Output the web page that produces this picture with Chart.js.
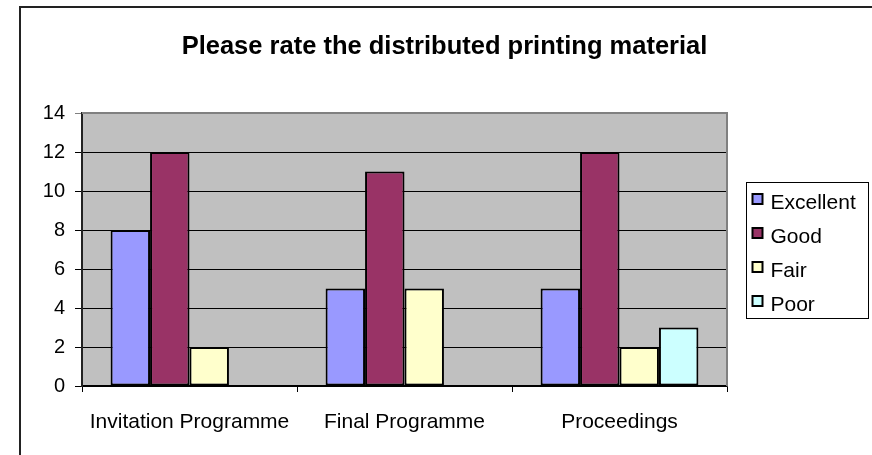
<!DOCTYPE html>
<html>
<head>
<meta charset="utf-8">
<script src="https://cdn.jsdelivr.net/npm/chart.js@4.4.1/dist/chart.umd.min.js"></script>
<style>
  html, body { margin: 0; padding: 0; background: #fff; overflow: hidden; }
  #wrap  { position: relative; width: 872px; height: 455px; }
  #frame { position: absolute; left: 19px; top: 6px; width: 900px; height: 500px;
           border: 2px solid #222; box-sizing: border-box; pointer-events: none; }
</style>
</head>
<body>
<div id="wrap">
  <canvas id="ratingChart" width="872" height="455"></canvas>
  <div id="frame"></div>
</div>
<script>
/* survey: printing material ratings */
const categories = ['Invitation Programme', 'Final Programme', 'Proceedings'];
const excellent  = [8, 5, 5];
const good       = [12, 11, 12];
const fair       = [2, 5, 2];
const poor       = [0, 0, 3];
const yTicks     = [0, 2, 4, 6, 8, 10, 12, 14];
const chartTitle = 'Please rate the distributed printing material';

const FONT = "'Liberation Sans', Arial, sans-serif";

/* ── grey plot area with the classic border ───────────────────── */
const plotBg = {
  id: 'plotBg',
  beforeDraw(chart) {
    const { ctx, chartArea: a } = chart;
    ctx.save();
    ctx.fillStyle = '#c0c0c0';
    ctx.fillRect(a.left, a.top, a.right - a.left, a.bottom - a.top);
    ctx.restore();
  },
  beforeDatasetsDraw(chart) {
    const { ctx, chartArea: a } = chart;
    ctx.save();
    ctx.strokeStyle = '#808080';
    ctx.lineWidth = 2;
    ctx.beginPath();
    ctx.moveTo(a.left, a.top);
    ctx.lineTo(a.right, a.top);
    ctx.lineTo(a.right, a.bottom);
    ctx.stroke();
    ctx.restore();
  }
};

/* ── title centred over the whole frame, not just the plot ────── */
const frameTitle = {
  id: 'frameTitle',
  afterDraw(chart) {
    const { ctx } = chart;
    ctx.save();
    ctx.font = `bold 25.5px ${FONT}`;
    ctx.fillStyle = '#000';
    ctx.textAlign = 'center';
    ctx.textBaseline = 'middle';
    ctx.fillText(chartTitle, (19 + chart.width) / 2 - 1, 47);
    ctx.restore();
  }
};

/* ── boxed legend on the right ────────────────────────────────── */
const boxLegend = {
  id: 'boxLegend',
  afterDraw(chart) {
    const { ctx, chartArea: a } = chart;
    const sets = chart.data.datasets;
    const rowH = 34, boxW = 122;
    const boxH = rowH * sets.length;
    const x = a.right + 19.5;
    const y = Math.round((a.top + a.bottom) / 2 - boxH / 2) + 0.5;
    ctx.save();
    ctx.fillStyle = '#fff';
    ctx.fillRect(x, y, boxW, boxH);
    ctx.strokeStyle = '#000';
    ctx.lineWidth = 1;
    ctx.strokeRect(x, y, boxW, boxH);
    ctx.font = `21px ${FONT}`;
    ctx.textBaseline = 'middle';
    sets.forEach((ds, i) => {
      const cy = Math.round(y + rowH * i + rowH / 2);
      ctx.fillStyle = ds.backgroundColor;
      ctx.fillRect(x + 6, cy - 6, 10, 10);
      ctx.lineWidth = 2;
      ctx.strokeStyle = '#000';
      ctx.strokeRect(x + 6, cy - 6, 10, 10);
      ctx.fillStyle = '#000';
      ctx.fillText(ds.label, x + 24, cy + 3);
    });
    ctx.restore();
  }
};

function series(label, data, color) {
  return {
    label,
    data,
    backgroundColor: color,
    borderColor: '#000',
    borderWidth: 2,
    borderSkipped: false,
    categoryPercentage: 0.734,
    barPercentage: 1.0,
  };
}

new Chart(document.getElementById('ratingChart'), {
  type: 'bar',
  data: {
    labels: categories,
    datasets: [
      series('Excellent', excellent, '#9999ff'),
      series('Good',      good,      '#993366'),
      series('Fair',      fair,      '#ffffcc'),
      series('Poor',      poor,      '#ccffff'),
    ],
  },
  options: {
    responsive: false,
    animation: false,
    layout: { padding: { left: 16, right: 145, top: 113, bottom: 0 } },
    plugins: {
      legend: { display: false },
      tooltip: { enabled: false },
      title: { display: false },
    },
    scales: {
      x: {
        afterFit: s => { s.height = 69; },
        grid: { drawOnChartArea: false, drawTicks: true, tickLength: 6, color: '#000' },
        border: { color: '#000', width: 1.5 },
        ticks: { color: '#000', font: { family: FONT, size: 21 }, padding: 18, maxRotation: 0 },
      },
      y: {
        min: 0,
        max: 14,
        afterFit: s => { s.width = 66; },
        afterBuildTicks: s => { s.ticks = yTicks.map(v => ({ value: v })); },
        grid: {
          color: c => (c.tick && c.tick.value === 14 ? '#808080' : '#000'),
          lineWidth: 1,
          tickLength: 7,
        },
        border: { color: '#222', width: 2 },
        ticks: { color: '#000', font: { family: FONT, size: 20 }, padding: 10 },
      },
    },
  },
  plugins: [plotBg, frameTitle, boxLegend],
});
</script>
</body>
</html>
